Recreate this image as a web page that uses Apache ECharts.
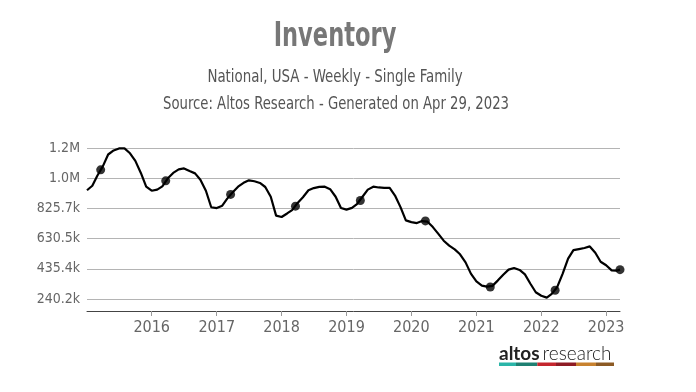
<!DOCTYPE html>
<html>
<head>
<meta charset="utf-8">
<script src="https://cdn.jsdelivr.net/npm/echarts@6/dist/echarts.min.js"></script>
<style>html,body{margin:0;padding:0;background:#fff}#c{width:696px;height:392px}</style>
</head>
<body>
<div id="c"></div>
<script>
// ---- data (inventory in thousands of single-family homes) ----
const monthDates = [];
for (let i = 0; i < 99; i++) {
  const y = 2015 + Math.floor(i / 12), m = (i % 12) + 1;
  monthDates.push(i === 0 ? '2015-01-02' : `${y}-${String(m).padStart(2, '0')}-01`);
}
monthDates.push('2023-03-20');

const inventory = [
  943, 972, 1037, 1097, 1174, 1200, 1213, 1214, 1182, 1133, 1055, 966,
  940, 947, 968, 1020, 1055, 1078, 1084, 1067, 1052, 1011, 940, 833,
  828, 843, 889, 930, 966, 991, 1007, 1001, 990, 964, 901, 779,
  770, 793, 815, 861, 898, 943, 957, 965, 966, 950, 901, 828,
  818, 829, 854, 901, 947, 966, 961, 958, 958, 909, 834, 748,
  737, 731, 744, 740, 705, 661, 617, 585, 561, 529, 477, 404,
  354, 327, 320, 325, 359, 397, 430, 441, 428, 399, 339, 284,
  261, 249, 273, 318, 403, 501, 556, 563, 570, 580, 539, 481,
  458, 425, 423, 430
];

const markerDates = ['2015-03-20','2016-03-20','2017-03-20','2018-03-20','2019-03-20','2020-03-20','2021-03-20','2022-03-20','2023-03-20'];
const markerValues = [1075, 1004, 916, 840, 877, 745, 318, 297, 430];

const yMin = 240.2, yStep = 195.17, yMax = 1216.05;
const titleText = 'Inventory';
const subLine1 = 'National, USA - Weekly - Single Family';
const subLine2 = 'Source: Altos Research - Generated on Apr 29, 2023';

const NARROW = "'Liberation Sans Narrow', 'DejaVu Sans Condensed', 'Roboto', sans-serif";

const chart = echarts.init(document.getElementById('c'), null, {renderer: 'canvas'});
chart.setOption({
  animation: false,
  backgroundColor: '#fff',
  grid: {left: 87, right: 76, top: 148, height: 151, containLabel: false},
  xAxis: {
    type: 'time',
    min: '2015-01-02',
    max: '2023-03-20',
    minInterval: 365 * 86400000,
    maxInterval: 366 * 86400000,
    offset: 12,
    axisLine: {show: true, lineStyle: {color: '#444', width: 1}},
    axisTick: {show: true, length: 5, lineStyle: {color: '#999'}},
    splitLine: {show: false},
    axisLabel: {
      color: '#666', fontSize: 16, fontFamily: NARROW, margin: 9,
      showMinLabel: false, showMaxLabel: false,
      formatter: v => String(new Date(v).getFullYear())
    }
  },
  yAxis: {
    type: 'value',
    min: yMin, max: yMax, interval: yStep,
    axisLine: {show: false},
    axisTick: {show: false},
    splitLine: {show: true, lineStyle: {color: '#b4b4b4', width: 1}},
    axisLabel: {
      color: '#666', fontSize: 14, fontFamily: NARROW, margin: 7,
      formatter: v => v >= 1000 ? (v / 1000).toFixed(1) + 'M' : v.toFixed(1) + 'k'
    }
  },
  series: [
    {
      type: 'line',
      data: monthDates.map((d, i) => [d, inventory[i]]),
      showSymbol: false, symbol: 'none',
      clip: false,
      lineStyle: {color: '#000', width: 2.2}
    },
    {
      type: 'scatter',
      data: markerDates.map((d, i) => [d, markerValues[i]]),
      symbolSize: 9,
      clip: false,
      itemStyle: {color: '#000'}
    }
  ],
  graphic: [
    {type: 'text', x: 335, y: 37, scaleX: 0.76, style: {text: titleText, fill: '#777', font: "bold 33px " + NARROW, textAlign: 'center', textVerticalAlign: 'middle'}},
    {type: 'text', x: 335, y: 78, scaleX: 0.875, style: {text: subLine1, fill: '#555', font: "17px " + NARROW, textAlign: 'center', textVerticalAlign: 'middle'}},
    {type: 'text', x: 336, y: 105, scaleX: 0.865, style: {text: subLine2, fill: '#555', font: "17px " + NARROW, textAlign: 'center', textVerticalAlign: 'middle'}},
    {type: 'text', x: 499, y: 354, style: {text: '{a|altos}{r|research}', textVerticalAlign: 'middle',
      rich: {a: {fontFamily: 'Lato', fontWeight: 'bold', fontSize: 19, fill: '#222'}, r: {fontFamily: 'Lato', fontWeight: 300, fontSize: 19, fill: '#222', padding: [0, 0, 0, 3]}}}},
    {type: 'rect', shape: {x: 499, y: 362.5, width: 17, height: 3.5}, style: {fill: '#2bb5a8'}},
    {type: 'rect', shape: {x: 516, y: 362.5, width: 21.3, height: 3.5}, style: {fill: '#1e8072'}},
    {type: 'rect', shape: {x: 537.3, y: 362.5, width: 18.7, height: 3.5}, style: {fill: '#c4262e'}},
    {type: 'rect', shape: {x: 556, y: 362.5, width: 20, height: 3.5}, style: {fill: '#8e1b24'}},
    {type: 'rect', shape: {x: 576, y: 362.5, width: 20, height: 3.5}, style: {fill: '#c8822f'}},
    {type: 'rect', shape: {x: 596, y: 362.5, width: 18, height: 3.5}, style: {fill: '#8c5a24'}}
  ]
});
</script>
</body>
</html>
